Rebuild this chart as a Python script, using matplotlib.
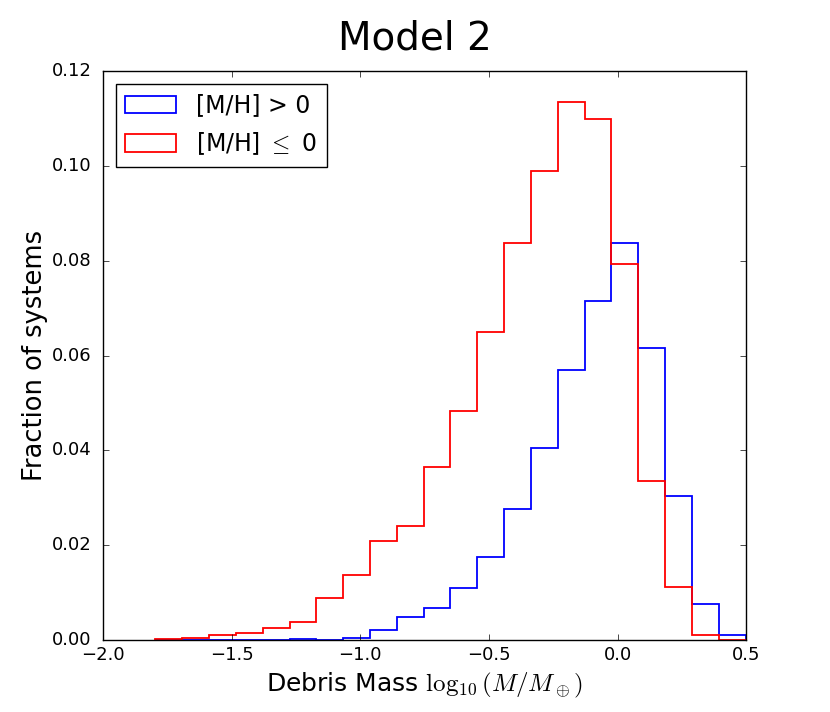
import matplotlib
matplotlib.use("Agg")
import matplotlib.pyplot as plt
import numpy as np

# shared bin edges of both histograms
bin_lo = -1.796
bin_hi = 0.4975
n_bins = 22

# fraction of systems per bin, [M/H] > 0
metal_rich = [0.0, 0.0, 0.0, 0.0, 0.0, 0.0002, 0.0, 0.0005, 0.0022, 0.0049,
              0.0067, 0.0109, 0.0175, 0.0277, 0.0404, 0.0569, 0.0716, 0.0837,
              0.0615, 0.0303, 0.0076, 0.0010]

# fraction of systems per bin, [M/H] <= 0
metal_poor = [0.0003, 0.0005, 0.0010, 0.0015, 0.0026, 0.0038, 0.0088, 0.0138,
              0.0209, 0.0240, 0.0366, 0.0484, 0.0650, 0.0838, 0.0989, 0.1135,
              0.1099, 0.0794, 0.0336, 0.0112, 0.0010, 0.0]

labels = ["[M/H] > 0", r"[M/H] $\leq$ 0"]


def main():
    plt.style.use("classic")
    plt.rcParams["figure.facecolor"] = "white"
    plt.rcParams["savefig.facecolor"] = "white"
    plt.rcParams["axes.unicode_minus"] = True

    edges = np.linspace(bin_lo, bin_hi, n_bins + 1)
    centres = 0.5 * (edges[:-1] + edges[1:])

    fig = plt.figure(figsize=(8.3, 7.12), dpi=100)
    ax = fig.add_subplot(111)
    fig.subplots_adjust(left=0.124, right=0.899, top=0.9003, bottom=0.101)

    ax.hist(centres, bins=edges, weights=metal_rich, histtype="step",
            color="blue", linewidth=1.3, label=labels[0])
    ax.hist(centres, bins=edges, weights=metal_poor, histtype="step",
            color="red", linewidth=1.3, label=labels[1])

    ax.set_xlim(-2.0, 0.5)
    ax.set_ylim(0.0, 0.12)
    ax.set_xticks(np.arange(-2.0, 0.51, 0.5))
    ax.set_yticks(np.arange(0.0, 0.121, 0.02))
    ax.tick_params(labelsize=13)
    ax.tick_params(axis="y", pad=8)

    fig.suptitle("Model 2", fontsize=28, x=0.5, y=0.973)
    ax.set_xlabel(r"Debris Mass $\log_{10}(M/M_\oplus)$", fontsize=18,
                  labelpad=5)
    ax.set_ylabel("Fraction of systems", fontsize=18.5, labelpad=3)

    ax.legend(loc="upper left", fontsize=17, handlelength=2.15,
              handleheight=0.75, handletextpad=0.85, labelspacing=0.55,
              borderpad=0.4, borderaxespad=0.55)

    fig.savefig("out.png", dpi=100)


if __name__ == "__main__":
    main()
